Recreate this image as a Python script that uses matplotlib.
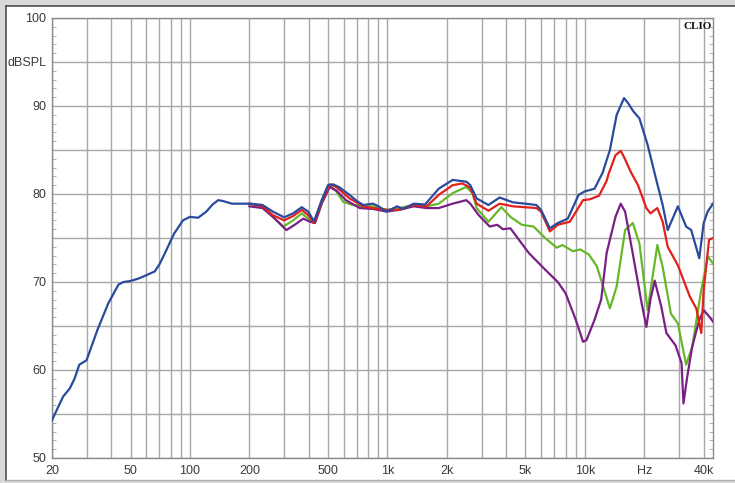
import matplotlib
matplotlib.use("Agg")
import matplotlib.pyplot as plt
from matplotlib.ticker import FixedLocator, NullFormatter, LogLocator
from matplotlib.patches import Rectangle
from matplotlib.lines import Line2D

# --- data (Hz, dB SPL) ---
blue_f = [20, 21.5, 22.8, 24.6, 26, 27.5, 29.9, 31.5, 33.9, 38.6, 43.4, 46, 49.7, 55, 59.1,
          66.3, 70, 74, 83.1, 92.1, 99.9, 110, 121, 130, 139, 147, 163, 180, 202, 233, 263,
          300, 333, 368, 397, 425, 465, 500, 531, 572, 643, 700, 754, 847, 900, 991, 1120,
          1200, 1360, 1550, 1820, 2140, 2510, 2630, 2830, 3250, 3700, 4330, 5000, 5690, 6000,
          6650, 7300, 8200, 9300, 10000, 11200, 12300, 13400, 14500, 15800, 16600, 17600,
          18900, 20800, 22900, 24800, 26300, 29600, 32600, 34600, 38000, 40000, 41900, 44600]
blue_db = [54.3, 55.8, 57.0, 57.9, 59.0, 60.6, 61.1, 62.5, 64.5, 67.6, 69.7, 70.0, 70.1, 70.4,
           70.7, 71.2, 72.0, 73.1, 75.5, 77.0, 77.4, 77.3, 78.0, 78.8, 79.3, 79.2, 78.9, 78.9,
           78.9, 78.75, 78.0, 77.35, 77.8, 78.5, 78.0, 76.9, 79.3, 81.0, 81.1, 80.75, 79.9,
           79.2, 78.75, 78.9, 78.6, 78.0, 78.6, 78.3, 78.9, 78.8, 80.6, 81.6, 81.4, 81.0, 79.5,
           78.75, 79.6, 79.05, 78.9, 78.75, 78.2, 76.1, 76.7, 77.2, 79.9, 80.3, 80.6, 82.4,
           85.0, 89.0, 90.9, 90.3, 89.4, 88.6, 85.6, 81.8, 78.75, 75.9, 78.6, 76.3, 75.9, 72.7,
           76.7, 78.0, 78.9]

red_f = [200, 233, 263, 300, 333, 368, 397, 425, 465, 510, 551, 643, 754, 847, 991, 1150,
         1360, 1580, 1820, 2140, 2400, 2630, 2830, 3250, 3700, 4330, 5690, 6000, 6650, 7300,
         8400, 9800, 10600, 11800, 12900, 13200, 14300, 15200, 15800, 17100, 18600, 20500,
         21500, 23300, 24800, 26300, 29600, 34100, 36700, 38900, 40000, 42600, 44600]
red_db = [78.9, 78.6, 77.6, 77.0, 77.5, 78.2, 77.6, 76.7, 79.1, 81.1, 80.8, 79.5, 78.6, 78.4,
          78.2, 78.2, 78.75, 78.6, 79.9, 81.0, 81.2, 80.7, 78.9, 78.1, 78.9, 78.6, 78.4, 78.0,
          75.75, 76.5, 76.85, 79.3, 79.4, 79.8, 81.5, 82.3, 84.4, 84.9, 84.2, 82.5, 81.0,
          78.4, 77.8, 78.4, 76.85, 74.0, 71.9, 68.3, 67.0, 64.2, 69.1, 74.8, 75.0]

green_f = [200, 233, 263, 297, 333, 368, 397, 425, 465, 505, 551, 598, 670, 754, 847, 991,
           1150, 1360, 1580, 1820, 2140, 2510, 2700, 2830, 3250, 3780, 4200, 4800, 5500, 6300,
           7200, 7700, 8700, 9500, 10500, 11500, 12300, 13400, 14500, 16000, 17500, 18900,
           20800, 23300, 24800, 27300, 29600, 32600, 35000, 38900, 42000, 44600]
green_db = [78.9, 78.6, 77.4, 76.3, 77.0, 77.8, 77.2, 76.7, 79.3, 81.0, 80.3, 79.1, 78.75,
            78.6, 78.6, 78.2, 78.4, 78.75, 78.6, 78.9, 80.1, 80.8, 80.1, 78.4, 76.85, 78.5,
            77.4, 76.5, 76.3, 75.0, 73.9, 74.2, 73.5, 73.7, 73.1, 71.8, 69.7, 67.0, 69.5,
            75.9, 76.7, 74.4, 66.8, 74.2, 71.7, 66.4, 65.3, 60.6, 62.65, 69.1, 72.9, 72.1]

purple_f = [200, 233, 263, 308, 339, 375, 405, 430, 465, 510, 551, 617, 725, 847, 991, 1150,
            1360, 1580, 1820, 2140, 2510, 2630, 2900, 3300, 3600, 3850, 4200, 5200, 6300,
            7300, 8000, 9000, 9800, 10200, 11200, 12100, 12900, 14300, 15200, 16000, 17600,
            19400, 20500, 21500, 22600, 24400, 25900, 28800, 30900, 31600, 33000, 35000,
            38000, 40000, 42600, 44600]
purple_db = [78.6, 78.4, 77.4, 75.9, 76.5, 77.2, 76.85, 76.7, 78.9, 80.8, 80.4, 79.3, 78.4,
             78.3, 78.0, 78.2, 78.6, 78.4, 78.4, 78.9, 79.3, 78.9, 77.6, 76.3, 76.5, 76.0,
             76.1, 73.3, 71.4, 70.0, 68.7, 65.7, 63.2, 63.4, 65.7, 68.0, 73.3, 77.4, 78.9,
             78.0, 72.9, 67.6, 64.9, 68.0, 70.15, 67.2, 64.2, 62.8, 60.8, 56.2, 59.2, 62.65,
             65.7, 66.8, 66.1, 65.5]

x_ticks = [20, 50, 100, 200, 500, 1000, 2000, 5000, 10000, 20000, 40000]
x_labels = ["20", "50", "100", "200", "500", "1k", "2k", "5k", "10k", "Hz", "40k"]
y_ticks = [50, 55, 60, 65, 70, 75, 80, 85, 90, 95, 100]
y_labels = ["50", "", "60", "", "70", "", "80", "", "90", "dBSPL", "100"]

plt.rcParams["font.family"] = ["Liberation Sans", "DejaVu Sans"]

W, H = 735, 483
fig = plt.figure(figsize=(W / 100, H / 100), dpi=100, facecolor="#d9d9d9")

# white panel with a darker edge on top/left, like the screenshot
fig.patches.append(Rectangle((6 / W, 3 / H), 1 - 6 / W, (480 - 6) / H,
                             transform=fig.transFigure, facecolor="white",
                             edgecolor="none", zorder=-5))
fig.lines.append(Line2D([6 / W, 1], [(H - 6) / H] * 2, transform=fig.transFigure,
                        color="#505050", lw=1.2, zorder=-4))
fig.lines.append(Line2D([6 / W] * 2, [3 / H, (H - 6) / H], transform=fig.transFigure,
                        color="#505050", lw=1.2, zorder=-4))
fig.lines.append(Line2D([6 / W, 1], [3 / H] * 2, transform=fig.transFigure,
                        color="#b0b0b0", lw=1, zorder=-4))

ax = fig.add_axes([52 / W, (H - 458) / H, (713 - 52) / W, (458 - 18) / H])
ax.set_zorder(2)
ax.set_xscale("log")
ax.set_xlim(20, 44600)
ax.set_ylim(50, 100)

ax.plot(blue_f, blue_db, color="#2a4a9e", lw=1.6, zorder=5)
ax.plot(green_f, green_db, color="#66b82a", lw=1.6, zorder=3)
ax.plot(purple_f, purple_db, color="#7a1f86", lw=1.6, zorder=4)
ax.plot(red_f, red_db, color="#e3201b", lw=1.6, zorder=4)

# grid: every 1-9 multiple on x, every 5 dB on y
ax.xaxis.set_major_locator(FixedLocator(x_ticks))
ax.set_xticklabels(x_labels)
ax.xaxis.set_minor_locator(LogLocator(base=10, subs=range(1, 10), numticks=20))
ax.xaxis.set_minor_formatter(NullFormatter())
ax.set_yticks(y_ticks)
ax.set_yticklabels(y_labels)
ax.yaxis.set_minor_locator(FixedLocator(range(50, 101)))

ax.grid(True, which="both", axis="x", color="#a8a8a8", lw=1)
ax.grid(True, which="major", axis="y", color="#a8a8a8", lw=1)
ax.set_axisbelow(True)

ax.tick_params(axis="both", which="major", length=0, labelsize=9, labelcolor="#3a3a3a")
ax.tick_params(axis="x", which="major", pad=5)
ax.tick_params(axis="y", which="major", pad=4)
ax.tick_params(axis="x", which="minor", length=0)
ax.tick_params(axis="y", which="minor", direction="in", length=3, color="#a0a0a0",
               left=True, right=True)

for s in ax.spines.values():
    s.set_color("#8a8a8a")
    s.set_linewidth(1)

ax.text(0.998, 0.992, "CLIO", transform=ax.transAxes, ha="right", va="top",
        fontsize=8, fontweight="bold", family="Liberation Serif", color="#111111")

fig.savefig("out.png", dpi=100, facecolor=fig.get_facecolor())
